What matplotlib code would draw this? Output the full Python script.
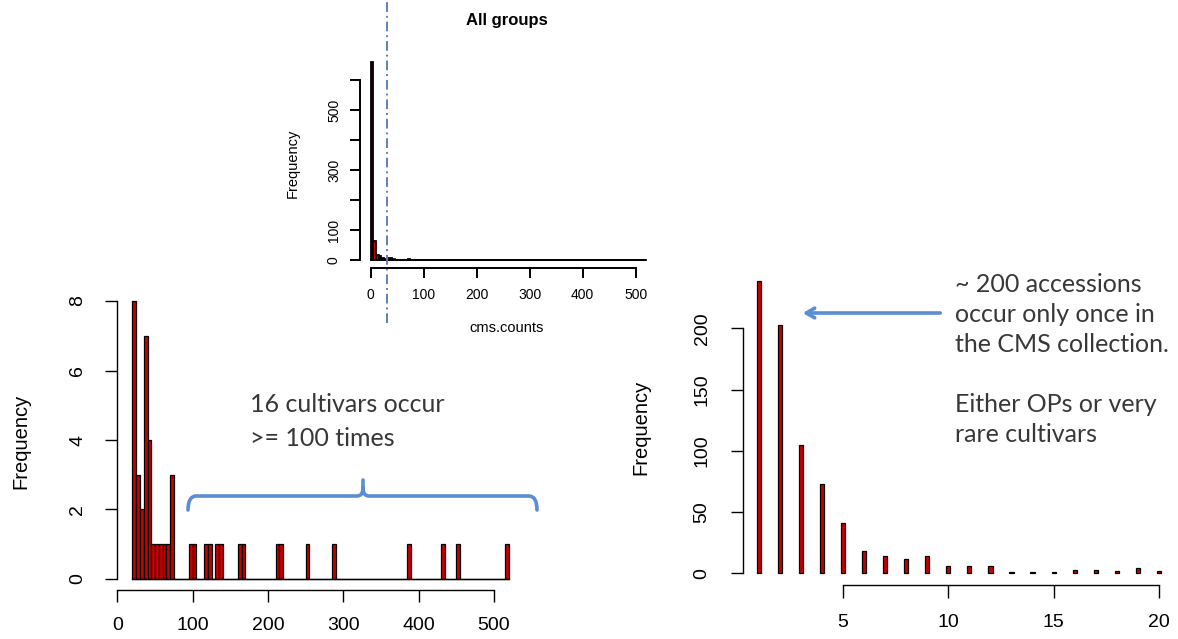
import numpy as np
import matplotlib
matplotlib.use("Agg")
import matplotlib.pyplot as plt
from matplotlib.path import Path
from matplotlib.patches import PathPatch

plt.rcParams["font.family"] = ["Liberation Sans", "DejaVu Sans"]

W, H = 1178, 639
DPI = 100

# ---- data -------------------------------------------------------------
# counts of accessions occurring exactly 1..20 times (right panel)
single_counts = np.arange(1, 21)
single_freq = [239, 203, 105, 73, 41, 18, 14, 12, 14, 6,
               6, 6, 1, 1, 1, 3, 3, 2, 4, 2]

# non-empty 5-wide bins (left edge) for counts above 20 (left panel)
high_bin_starts = [20, 25, 30, 35, 40, 45, 50, 55, 60, 65, 70,
                   95, 100, 115, 120, 130, 135, 160, 165, 210, 215,
                   250, 285, 385, 430, 450, 515]
high_bin_freq = [8, 3, 2, 7, 4, 1, 1, 1, 1, 1, 3,
                 1, 1, 1, 1, 1, 1, 1, 1, 1, 1,
                 1, 1, 1, 1, 1, 1]

BIN = 5
HIGH_EDGES = np.arange(20, 520, BIN)
ALL_EDGES = np.arange(0, 520, BIN)

high_hist = np.zeros(len(HIGH_EDGES))
for s, f in zip(high_bin_starts, high_bin_freq):
    high_hist[(s - 20) // BIN] = f

# the first four bins of "All groups" are sums of the 1..20 counts
low_hist = np.array(single_freq).reshape(4, 5).sum(axis=1)
all_hist = np.concatenate([low_hist, high_hist])

RED = "#c80000"
BLUE = "#5a8dd6"
TEXT = "#383838"

fig = plt.figure(figsize=(W / DPI, H / DPI), dpi=DPI)


def px_axes(left, top, right, bottom):
    return fig.add_axes([left / W, 1 - bottom / H, (right - left) / W, (bottom - top) / H])


def r_style(ax, xb, yb, lw, tl, xpad, ypad, fs):
    for s in ("top", "right"):
        ax.spines[s].set_visible(False)
    ax.spines["left"].set_bounds(*yb)
    ax.spines["bottom"].set_bounds(*xb)
    for s in ("left", "bottom"):
        ax.spines[s].set_linewidth(lw)
    ax.tick_params(axis="both", length=tl, width=lw, labelsize=fs)
    ax.tick_params(axis="x", pad=xpad)
    ax.tick_params(axis="y", pad=ypad, labelrotation=90)
    for lbl in ax.get_yticklabels():
        lbl.set_va("center")
    ax.patch.set_visible(False)


# ---- left panel: counts > 20 --------------------------------------------
ax1 = px_axes(117.4, 289.9, 524, 590.1)
ax1.plot([HIGH_EDGES[0], HIGH_EDGES[-1] + BIN], [0, 0], color="black", lw=1.0)
ax1.bar(HIGH_EDGES, high_hist, width=BIN, align="edge",
        color=RED, edgecolor="black", linewidth=0.9)
ax1.set_xlim(0, 540)
ax1.set_ylim(-0.32, 8.32)
ax1.set_xticks([0, 100, 200, 300, 400, 500])
ax1.set_yticks([0, 2, 4, 6, 8])
r_style(ax1, (0, 500), (0, 8), 1.0, 8.5, 11, 14, 14)

# ---- inset: all groups --------------------------------------------------
ax2 = px_axes(359.7, 53.8, 657.3, 267.9)
ax2.plot([ALL_EDGES[0], ALL_EDGES[-1] + BIN], [0, 0], color="black", lw=1.3)
ax2.bar(ALL_EDGES, all_hist, width=BIN, align="edge",
        color=RED, edgecolor="black", linewidth=1.3)
ax2.set_xlim(-20.8, 540.8)
ax2.set_ylim(-26.4, 687.4)
ax2.set_xticks([0, 100, 200, 300, 400, 500])
ax2.set_yticks([0, 100, 200, 300, 400, 500, 600])
ax2.set_yticklabels(["0", "100", "", "300", "", "500", ""])
r_style(ax2, (0, 500), (0, 600), 1.4, 7.5, 7, 6, 10)
ax2.axvline(30, ymin=-0.257, ymax=1.251, clip_on=False, color="#5a82b4",
            linestyle=(0, (5, 2, 1, 2)), linewidth=1.4)

# ---- right panel: counts 1..20 --------------------------------------------
ax3 = px_axes(742.6, 268.8, 1175, 585)
ax3.bar(single_counts, single_freq, width=0.2,
        color=RED, edgecolor="black", linewidth=0.9)
ax3.set_xlim(0.24, 20.76)
ax3.set_ylim(-9.56, 248.56)
ax3.set_xticks([5, 10, 15, 20])
ax3.set_yticks([0, 50, 100, 150, 200])
r_style(ax3, (5, 20), (0, 200), 1.0, 9, 12, 14, 14)

# ---- overlay in pixel coordinates ----------------------------------------
ov = fig.add_axes([0, 0, 1, 1], zorder=5)
ov.set_xlim(0, W)
ov.set_ylim(H, 0)
ov.axis("off")

ov.text(507, 20, "All groups", ha="center", va="center", fontsize=12, fontweight="bold")
ov.text(507, 328, "cms.counts", ha="center", va="center", fontsize=10.5)
ov.text(293, 163, "Frequency", rotation=90, ha="center", va="center", fontsize=10.5)
ov.text(21, 441, "Frequency", rotation=90, ha="center", va="center", fontsize=14.5)
ov.text(641, 427, "Frequency", rotation=90, ha="center", va="center", fontsize=14.5)

ann = dict(fontfamily=["Lato", "DejaVu Sans"], fontsize=18, color=TEXT,
           ha="left", va="center")
ov.text(250, 405, "16 cultivars occur", **ann)
ov.text(250, 438, ">= 100 times", **ann)

right_lines = ["~ 200 accessions", "occur only once in", "the CMS collection.",
               "", "Either OPs or very", "rare cultivars"]
for i, line in enumerate(right_lines):
    ov.text(955, 284 + i * 30.2, line, **ann)

# curly bracket over the >= 100 bars
verts = [(188, 510), (188, 496), (196, 496), (357, 496), (363, 496), (363, 488),
         (363, 480),
         (363, 488), (363, 496), (369, 496), (529, 496), (537, 496), (537, 510)]
codes = [Path.MOVETO, Path.CURVE3, Path.CURVE3, Path.LINETO, Path.CURVE3, Path.CURVE3,
         Path.LINETO,
         Path.MOVETO, Path.CURVE3, Path.CURVE3, Path.LINETO, Path.CURVE3, Path.CURVE3]
ov.add_patch(PathPatch(Path(verts, codes), facecolor="none", edgecolor=BLUE,
                       linewidth=2.6, capstyle="round", joinstyle="round"))

ov.annotate("", xy=(800, 313), xytext=(943, 313),
            arrowprops=dict(arrowstyle="->,head_length=0.6,head_width=0.35",
                            color=BLUE, lw=2.6))

fig.savefig("out.png", dpi=DPI)
plt.close(fig)
